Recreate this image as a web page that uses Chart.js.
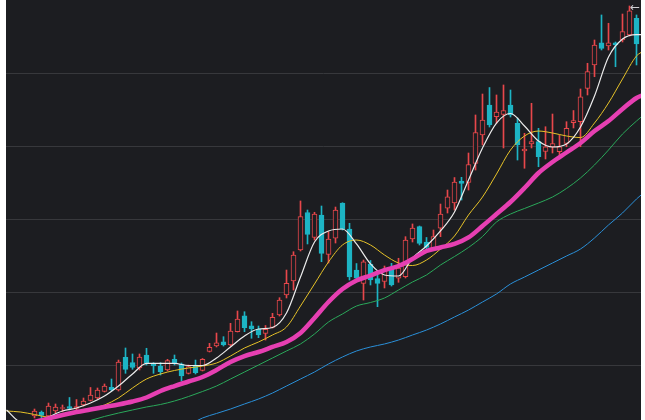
<!DOCTYPE html>
<html lang="zh">
<head>
<meta charset="UTF-8">
<title>K线</title>
<script src="https://cdn.jsdelivr.net/npm/chart.js@4"></script>
<style>
  html, body { margin: 0; padding: 0; background: #fff; }
  .wrap { position: relative; width: 645px; height: 420px; }
  .arrow { position: absolute; left: 630px; top: 0px; font: 12px 'DejaVu Sans', sans-serif; color: #cfd0d4; }
</style>
</head>
<body>
<div class="wrap">
  <canvas id="kline" width="645" height="420"></canvas>
  <span class="arrow">←</span>
</div>
<script>
// 日K 数据
const openP = [3.01,3.56,3.01,3.70,4.04,4.32,4.04,4.52,5.14,5.48,
  6.37,6.95,6.58,11.05,10.32,9.59,11.37,10.14,9.86,9.32,
  10.78,10.14,8.86,10.00,9.25,11.85,12.60,13.19,12.74,14.56,
  16.75,15.38,14.89,14.34,15.16,16.85,19.59,21.51,25.75,30.89,
  27.47,30.55,25.14,27.36,32.19,28.63,23.01,21.19,23.84,21.85,
  21.44,23.36,21.88,22.10,27.26,28.95,26.85,25.99,28.73,31.47,
  32.19,35.21,35.00,37.60,41.51,45.62,44.01,44.32,45.62,43.11,
  39.32,40.27,40.59,39.25,39.86,39.22,40.37,43.19,43.33,47.90,
  51.10,54.15,53.70,54.15,54.52,55.21,57.49];
const highP = [3.97,3.70,4.79,4.66,4.52,5.55,5.27,5.48,6.92,6.85,
  7.40,8.08,10.68,12.33,11.51,11.51,12.29,10.32,10.32,10.78,
  11.37,10.27,10.00,10.68,10.89,12.97,14.38,13.88,15.71,17.40,
  17.30,15.93,15.34,15.41,17.08,19.22,23.01,25.52,32.47,31.23,
  30.92,31.78,28.26,31.64,32.23,29.41,23.90,24.38,24.32,22.47,
  23.56,23.93,24.62,27.58,29.32,29.04,27.47,28.49,32.05,33.97,
  35.68,35.71,39.04,44.25,47.12,48.01,46.99,48.36,47.67,43.84,
  41.74,45.85,42.42,42.64,44.38,41.51,43.33,44.86,47.81,51.33,
  54.52,57.95,56.81,54.25,58.08,59.18,57.95];
const lowP = [2.74,2.74,2.74,3.42,3.63,3.84,3.84,4.38,5.07,5.34,
  6.30,6.44,6.44,8.86,9.41,9.32,10.00,8.86,8.63,9.18,
  10.00,7.81,8.77,8.77,9.18,11.78,12.47,12.60,12.60,14.52,
  14.56,13.66,13.74,13.42,15.07,16.71,19.18,20.27,25.62,26.58,
  27.12,24.15,23.97,26.71,28.49,21.64,21.64,18.90,20.96,17.99,
  20.55,20.82,21.33,21.92,26.85,26.44,25.75,25.75,27.58,30.82,
  31.23,32.60,33.97,36.71,40.14,42.60,43.11,39.73,43.97,38.08,
  36.95,39.73,37.16,38.22,39.04,38.77,39.90,42.47,39.90,46.99,
  49.49,53.15,53.15,50.86,54.25,55.07,51.10];
const closeP = [3.70,3.08,4.38,4.25,4.18,4.04,4.32,5.07,5.89,6.58,
  7.12,6.58,10.41,9.41,9.66,11.10,10.27,9.86,9.08,10.59,
  10.23,8.49,9.77,8.95,10.78,12.42,13.05,12.74,14.66,16.30,
  15.11,14.93,14.11,14.89,16.53,18.90,21.19,25.07,30.34,27.88,
  30.68,25.30,27.26,31.23,28.63,22.05,21.88,24.15,21.64,21.19,
  23.15,20.96,23.29,27.12,28.77,26.67,26.10,27.58,30.68,33.05,
  35.07,34.89,37.47,41.85,43.56,42.88,44.66,44.86,44.25,40.14,
  39.59,40.62,38.53,39.90,40.34,39.90,42.42,43.47,46.75,50.18,
  53.84,53.38,54.15,53.84,55.66,58.53,53.97];

// 均线取样位置（K线序号）
const maX = [-4,-2,0,2,4,6,8,10,12,14,16,18,20,22,24,26,28,30,32,34,
  36,38,40,42,44,46,48,50,52,54,56,58,60,62,64,66,68,70,72,74,
  76,78,80,82,84,86,87];
const ma5 = [3.84,2.19,2.05,2.88,3.70,4.11,4.79,5.75,7.12,8.77,
  10.21,10.21,10.21,9.93,9.93,10.96,12.47,13.97,14.93,15.14,
  17.12,22.05,26.85,28.36,28.63,26.58,23.84,22.33,22.19,24.66,
  26.30,28.36,30.96,35.34,39.73,43.15,44.45,42.74,40.68,39.86,
  40.27,42.60,46.85,52.19,54.66,55.27,55.27];
const ma10 = [3.70,3.56,3.22,2.88,3.08,3.49,3.97,4.52,5.48,6.85,
  8.08,8.77,9.25,9.59,9.86,10.27,11.23,12.33,13.15,14.11,
  15.21,18.08,21.10,24.11,26.44,27.12,26.44,25.07,23.97,23.63,
  24.38,25.89,27.67,30.55,33.01,36.16,39.45,41.37,42.05,41.78,
  41.37,41.16,43.15,45.89,49.18,52.33,53.01];
const ma20 = [1.10,1.64,2.19,2.67,3.15,3.56,3.90,4.25,4.59,5.00,
  5.55,6.44,7.12,7.74,8.36,9.32,10.41,11.23,11.78,12.47,
  13.15,14.38,16.44,18.63,20.41,21.58,22.26,23.01,23.56,24.52,
  25.62,26.10,26.58,27.47,29.04,30.68,32.33,34.25,36.30,37.81,
  39.11,40.41,42.05,43.42,45.07,46.58,46.99];
const ma30 = [-0.27,0.14,0.55,0.96,1.37,1.78,2.40,2.95,3.42,3.84,
  4.25,4.59,5.07,5.68,6.37,7.12,8.08,9.04,10.00,10.96,
  11.92,12.88,14.25,15.89,16.99,18.08,18.56,19.18,20.27,21.37,
  22.33,23.70,24.86,26.10,27.60,29.59,30.68,31.44,32.19,33.01,
  34.18,35.62,37.40,39.45,41.64,43.42,44.25];
const ma60 = [null,null,null,null,null,null,null,null,null,null,
  null,null,0.82,1.78,2.74,3.36,3.97,4.66,5.34,6.16,
  7.12,8.08,9.04,10.14,11.10,11.92,12.47,12.88,13.42,14.11,
  14.79,15.62,16.58,17.53,18.63,19.73,21.10,22.05,23.01,23.97,
  24.93,25.89,27.40,29.18,30.82,32.74,33.56];
const gridTicks = [10, 20, 30, 40, 50];

const BG = '#1c1d21';
const UP = '#e8474b';
const DOWN = '#1db4c4';
const GRID = '#37383c';

const isUp = openP.map((o, i) => closeP[i] >= o);
const wicks = openP.map((o, i) => ({ x: i, y: [lowP[i], highP[i]] }));
const bodies = openP.map((o, i) => ({ x: i, y: [o, closeP[i]] }));

function maLine(values, color, width, order) {
    return {
        type: 'line',
        data: maX.map((x, k) => ({ x: x, y: values[k] })),
        borderColor: color,
        borderWidth: width,
        pointRadius: 0,
        cubicInterpolationMode: 'monotone',
        clip: 0,
        order: order
    };
}

const bgPlugin = {
    id: 'bg',
    beforeDraw(chart) {
        const { ctx, chartArea: a } = chart;
        ctx.save();
        ctx.fillStyle = BG;
        ctx.fillRect(a.left, a.top, a.right - a.left, a.bottom - a.top);
        ctx.restore();
    }
};

new Chart(document.getElementById('kline'), {
    type: 'bar',
    data: {
        datasets: [
            { type: 'bar', data: wicks, backgroundColor: isUp.map(u => u ? UP : DOWN),
              barThickness: 1, grouped: false, clip: 0, order: 30 },
            { type: 'bar', data: bodies, backgroundColor: isUp.map(u => u ? BG : DOWN),
              borderColor: isUp.map(u => u ? UP : DOWN), borderWidth: 1, borderSkipped: false,
              barThickness: 5, minBarLength: 1, grouped: false, clip: 0, order: 20 },
            maLine(ma60, '#2a8fd8', 1, 6),
            maLine(ma30, '#2aa85a', 1, 5),
            maLine(ma10, '#e6c228', 1, 4),
            maLine(ma5, '#ececec', 1.2, 3),
            maLine(ma20, '#e63fb2', 4.5, 2)
        ]
    },
    options: {
        responsive: false,
        animation: false,
        layout: { padding: { left: 6, right: 4, top: 0, bottom: 0 } },
        plugins: { legend: { display: false }, tooltip: { enabled: false } },
        scales: {
            x: { type: 'linear', min: -4.0714, max: 86.643, offset: false, display: false },
            y: {
                type: 'linear', min: 2.466, max: 60, beginAtZero: false,
                border: { display: false },
                ticks: { display: false },
                grid: { color: GRID, drawTicks: false, tickLength: 0 },
                afterBuildTicks: s => { s.ticks = gridTicks.map(v => ({ value: v })); }
            }
        }
    },
    plugins: [bgPlugin]
});
</script>
</body>
</html>
